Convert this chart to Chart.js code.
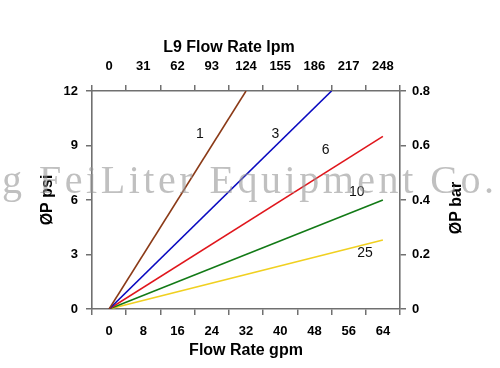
<!DOCTYPE html>
<html>
<head>
<meta charset="utf-8">
<script src="https://cdn.jsdelivr.net/npm/chart.js@4/dist/chart.umd.min.js"></script>
<style>
  html, body { margin: 0; padding: 0; background: #fff; }
  canvas { display: block; }
</style>
</head>
<body>
<canvas id="flowChart" width="500" height="368"></canvas>
<script>
// Tick labels
const gpmLabels = ['0', '8', '16', '24', '32', '40', '48', '56', '64'];
const lpmLabels = ['0', '31', '62', '93', '124', '155', '186', '217', '248'];

// Curves: flow (gpm) and pressure drop (psi) at start and end
const curveNames = ['1', '3', '6', '10', '25'];
const curveFlow = [[0, 32], [0, 52], [0, 64], [0, 64], [0, 64]];
const curvePsi = [[0, 12], [0, 12], [0, 9.5], [0, 6.0], [0, 3.8]];
const curveColors = ['#8b3a17', '#0a0ac0', '#e0161c', '#127a16', '#f0d020'];

// Where each curve number sits (gpm, psi)
const labelFlow = [21.2, 38.9, 50.6, 57.9, 59.8];
const labelPsi = [9.6, 9.6, 8.75, 6.45, 3.05];

const axisColor = '#707070';
const sansFont = "'Liberation Sans', Arial, sans-serif";

const datasets = curveNames.map((name, i) => ({
    label: name,
    data: curveFlow[i].map((f, j) => ({ x: f, y: curvePsi[i][j] })),
    borderColor: curveColors[i],
    borderWidth: 1.6,
    pointRadius: 0,
    fill: false,
    xAxisID: 'xData',
    yAxisID: 'y'
}));

// Draws curve numbers, top and right titles and the watermark
const extrasPlugin = {
    id: 'extras',
    afterDatasetsDraw(chart) {
        const ctx = chart.ctx;
        const xs = chart.scales.xData;
        const ys = chart.scales.y;
        ctx.save();
        ctx.fillStyle = '#111';
        ctx.font = '14px ' + sansFont;
        ctx.textAlign = 'center';
        ctx.textBaseline = 'middle';
        curveNames.forEach((name, i) => {
            ctx.fillText(name, xs.getPixelForValue(labelFlow[i]), ys.getPixelForValue(labelPsi[i]));
        });
        ctx.restore();
    },
    afterDraw(chart) {
        const ctx = chart.ctx;
        const area = chart.chartArea;
        ctx.save();
        ctx.fillStyle = '#000';
        ctx.font = 'bold 16px ' + sansFont;
        ctx.textAlign = 'center';
        ctx.textBaseline = 'middle';
        // top title, sits a little left of centre
        ctx.fillText('L9 Flow Rate lpm', 229, 48);
        // right axis title, reading upwards
        ctx.translate(457, (area.top + area.bottom) / 2 + 8);
        ctx.rotate(-Math.PI / 2);
        ctx.fillText('ØP bar', 0, 0);
        ctx.restore();

        // watermark
        const mark = 'g FeiLiter Equipment Co.';
        ctx.save();
        ctx.font = '40px "Liberation Serif", "DejaVu Serif", serif';
        const w = ctx.measureText(mark).width;
        const spacing = (492 - w) / (mark.length - 1);
        ctx.letterSpacing = spacing + 'px';
        ctx.fillStyle = 'rgba(150,150,150,0.6)';
        ctx.textBaseline = 'alphabetic';
        ctx.fillText(mark, 2, 193);
        ctx.restore();
    }
};

const tickFont = { family: sansFont, size: 13, weight: 'bold' };
const titleFont = { family: sansFont, size: 16, weight: 'bold' };

new Chart(document.getElementById('flowChart'), {
    type: 'line',
    data: { labels: gpmLabels, datasets: datasets },
    plugins: [extrasPlugin],
    options: {
        responsive: false,
        animation: false,
        layout: { padding: { left: 30, right: 28, top: 30, bottom: 0 } },
        plugins: { legend: { display: false }, tooltip: { enabled: false } },
        scales: {
            xData: {
                type: 'linear',
                display: false,
                min: -4,
                max: 68
            },
            x: {
                type: 'category',
                position: 'bottom',
                labels: gpmLabels,
                offset: true,
                grid: { offset: true, drawOnChartArea: false, tickLength: 6, color: axisColor, lineWidth: 1.5 },
                border: { color: axisColor, width: 1.6 },
                ticks: { color: '#000', font: tickFont, padding: 9, maxRotation: 0 },
                title: { display: true, text: 'Flow Rate gpm', color: '#000', font: titleFont, padding: { top: 0, bottom: 8 } },
                afterFit(scale) { scale.height = 59; }
            },
            xTop: {
                type: 'category',
                position: 'top',
                labels: lpmLabels,
                offset: true,
                grid: { offset: true, drawOnChartArea: false, tickLength: 6, color: axisColor, lineWidth: 1.5 },
                border: { color: axisColor, width: 1.6 },
                ticks: { color: '#000', font: tickFont, padding: 11, maxRotation: 0 },
                afterFit(scale) { scale.height = 61; }
            },
            y: {
                type: 'linear',
                position: 'left',
                min: 0,
                max: 12,
                grid: { drawOnChartArea: false, tickLength: 6, color: axisColor, lineWidth: 1.5 },
                border: { color: axisColor, width: 1.6 },
                ticks: { stepSize: 3, color: '#000', font: tickFont, padding: 8 },
                title: { display: true, text: 'ØP psi', color: '#000', font: titleFont, padding: { top: 8, bottom: 0 } },
                afterFit(scale) { scale.width = 62; }
            },
            y2: {
                type: 'linear',
                position: 'right',
                min: 0,
                max: 0.8,
                grid: { drawOnChartArea: false, tickLength: 6, color: axisColor, lineWidth: 1.5 },
                border: { color: axisColor, width: 1.6 },
                ticks: { stepSize: 0.2, color: '#000', font: tickFont, padding: 6 },
                afterFit(scale) { scale.width = 72; }
            }
        }
    }
});
</script>
</body>
</html>
